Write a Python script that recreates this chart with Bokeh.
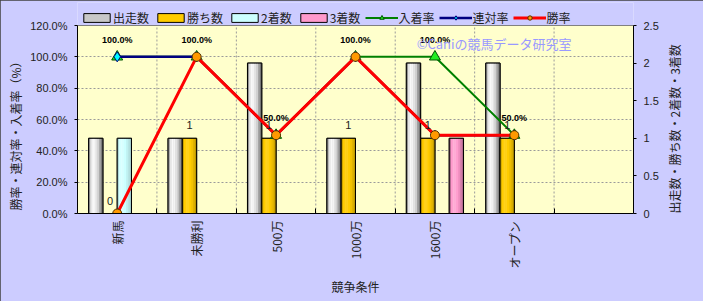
import numpy as np
from bokeh.plotting import figure
from bokeh.models import (Range1d, LinearAxis, FixedTicker, NumeralTickFormatter,
                          ColumnDataSource, LabelSet, Label, Legend, LegendItem, Title)
from bokeh.core.properties import value
from bokeh.embed import file_html
from bokeh.resources import INLINE

# ---------------- data ----------------
categories = ["新馬", "未勝利", "500万", "1000万", "1600万", "オープン"]
starts = [1, 1, 2, 1, 2, 2]          # 出走数
wins = [0, 1, 1, 1, 1, 1]            # 勝ち数
seconds = [1, 0, 0, 0, 0, 0]         # 2着数
thirds = [0, 0, 0, 0, 1, 0]          # 3着数
place_rate = [1.0, 1.0, 0.5, 1.0, 1.0, 0.5]      # 入着率
quinella_rate = [1.0, 1.0, 0.5, 1.0, 0.5, 0.5]   # 連対率
win_rate = [0.0, 1.0, 0.5, 1.0, 0.5, 0.5]        # 勝率
left_ticks = [0, 0.2, 0.4, 0.6, 0.8, 1.0, 1.2]
right_ticks = [0, 0.5, 1, 1.5, 2, 2.5]
n_slots = 7
left_title = "勝率・連対率・入着率（%）"
right_title = "出走数・勝ち数・2着数・3着数"
x_title = "競争条件"
watermark = "©Caniの競馬データ研究室"

JP = "Noto Sans CJK JP"
LAT = "Liberation Sans"
TXT = "#222222"

# layout: frame spans from y=2 to y=213; the plot area (0..max) occupies y=25..213
FRAME_TOP, AREA_TOP, AREA_BOTTOM = 2, 25, 213
stretch = (AREA_BOTTOM - FRAME_TOP) / (AREA_BOTTOM - AREA_TOP)
lmax, rmax = left_ticks[-1], right_ticks[-1]

p = figure(width=703, height=301, x_range=Range1d(0, n_slots), y_range=Range1d(0, lmax * stretch),
           output_backend="svg", toolbar_location=None,
           min_border_left=77, min_border_right=70, min_border_top=FRAME_TOP,
           min_border_bottom=301 - AREA_BOTTOM,
           background_fill_color="#CCCCFF", border_fill_color="#CCCCFF",
           outline_line_color=None)
p.styles = {"outline": "1px solid #404040", "outline-offset": "-1px"}

xc = np.arange(len(categories)) + 0.5

# plot area
area = p.quad(left=[0], right=[n_slots], bottom=[0], top=[lmax],
              fill_color="#FFFFCC", line_color="#808080", line_width=1)
area.level = "image"
seg = p.segment(x0=list(range(1, n_slots)), x1=list(range(1, n_slots)),
                y0=[0] * (n_slots - 1), y1=[lmax] * (n_slots - 1),
                line_color="#9a9a9a", line_dash="2 2", line_width=1)
seg.level = "underlay"
p.xgrid.visible = False
p.ygrid.ticker = FixedTicker(ticks=left_ticks[1:-1])
p.ygrid.grid_line_color = "#9a9a9a"
p.ygrid.grid_line_dash = "2 2"

# axes
ax_l = p.yaxis[0]
ax_l.ticker = FixedTicker(ticks=left_ticks)
ax_l.formatter = NumeralTickFormatter(format="0.0%")
ax_l.bounds = (0, lmax)
p.extra_y_ranges = {"cnt": Range1d(0, rmax * stretch)}
ax_r = LinearAxis(y_range_name="cnt", ticker=FixedTicker(ticks=right_ticks),
                  major_label_overrides={t: f"{t:g}" for t in right_ticks},
                  bounds=(0, rmax))
p.add_layout(ax_r, "right")

for ax in [ax_l, ax_r]:
    ax.major_tick_out = 3
    ax.major_tick_in = 0
    ax.minor_tick_out = 0
    ax.minor_tick_in = 0
    ax.major_label_standoff = 7
    ax.major_label_text_font = LAT
    ax.major_label_text_font_size = "11px"
    ax.major_label_text_color = TXT
    ax.axis_line_color = "black"
    ax.major_tick_line_color = "black"

ax_r.axis_label = right_title
ax_r.axis_label_standoff = 13
ax_r.axis_label_text_font = JP
ax_r.axis_label_text_font_size = "12px"
ax_r.axis_label_text_font_style = "normal"
ax_r.axis_label_text_color = TXT
props = ax_r.properties()
if "axis_label_orientation" in props:
    ax_r.axis_label_orientation = np.pi / 2
if "axis_label_align" in props:
    ax_r.axis_label_align = "start"

p.add_layout(Title(text=left_title, align="left", offset=3, vertical_align="middle",
                   standoff=6, text_font=JP, text_font_size="12px", text_font_style="normal",
                   text_color=TXT), "left")

xa = p.xaxis[0]
xa.ticker = FixedTicker(ticks=list(xc), minor_ticks=list(range(1, n_slots)))
xa.major_label_overrides = {float(x): c for x, c in zip(xc, categories)}
xa.major_label_orientation = np.pi / 2
xa.major_tick_in = 0
xa.major_tick_out = 0
xa.minor_tick_in = 5
xa.minor_tick_out = 0
xa.minor_tick_line_color = "black"
xa.major_label_standoff = 7
xa.major_label_text_font = JP
xa.major_label_text_font_size = "12px"
xa.major_label_text_color = TXT
xa.axis_line_color = "black"
xa.axis_label = x_title
xa.axis_label_text_font = JP
xa.axis_label_text_font_size = "12px"
xa.axis_label_text_font_style = "normal"
xa.axis_label_text_color = TXT
xa.axis_label_standoff = 6


# ---------------- bars ----------------
def shade(hexcol, f):
    r, g, b = (int(hexcol[i:i + 2], 16) for i in (1, 3, 5))
    if f >= 0:
        r, g, b = (c + (255 - c) * f for c in (r, g, b))
    else:
        r, g, b = (c * (1 + f) for c in (r, g, b))
    return "#%02x%02x%02x" % (int(r), int(g), int(b))


w = 0.18
offsets = [-1.5 * w, -0.5 * w, 0.5 * w, 1.5 * w]
bar_series = [
    ("出走数", starts, "#C8C8C8", [-0.25, 0.55, 0.9, 0.8, 0.5, 0.15, -0.2, -0.4]),
    ("勝ち数", wins, "#FFCC00", [-0.2, 0.0, 0.12, 0.1, 0.0, -0.05, -0.12, -0.25]),
    ("2着数", seconds, "#CCFFFF", [-0.15, 0.2, 0.35, 0.2, 0.0, -0.05, -0.1, -0.2]),
    ("3着数", thirds, "#FF99CC", [-0.3, 0.0, 0.25, 0.2, 0.05, -0.05, -0.15, -0.3]),
]
legend_items = []
nstrip = 8
for (name, vals, col, prof), off in zip(bar_series, offsets):
    xs = [x + off for x, v in zip(xc, vals) if v > 0]
    tops = [v for v in vals if v > 0]
    src = ColumnDataSource(dict(x=xs, top=tops))
    base = p.vbar(x="x", top="top", width=w, bottom=0, source=src, y_range_name="cnt",
                  fill_color=col, line_color="black", line_width=1)
    sw = w / nstrip
    for k in range(nstrip):
        sx = [x - w / 2 + (k + 0.5) * sw for x in xs]
        p.vbar(x=sx, top=tops, width=sw * 1.08, bottom=0, y_range_name="cnt",
               fill_color=shade(col, prof[k]), line_color=None)
    p.vbar(x="x", top="top", width=w, bottom=0, source=src, y_range_name="cnt",
           fill_color=None, line_color="black", line_width=1)
    legend_items.append(LegendItem(label=name, renderers=[base]))

# ---------------- lines ----------------
line_series = [
    ("入着率", place_rate, "#008000", 2, "triangle", 11, "#22EE22", "#005500"),
    ("連対率", quinella_rate, "#000080", 2.5, "diamond", 10, "#00FFFF", "#000080"),
    ("勝率", win_rate, "#FF0000", 3, "circle", 9, "#FF9900", "#553300"),
]
for name, vals, lc, lw, mk, ms, fc, mlc in line_series:
    ln = p.line(xc, vals, line_color=lc, line_width=lw)
    sc = p.scatter(xc, vals, marker=mk, size=ms, fill_color=fc, line_color=mlc, line_width=1)
    legend_items.append(LegendItem(label=name, renderers=[ln, sc]))

# data labels
lab_src = ColumnDataSource(dict(x=xc, y=place_rate, t=[f"{v * 100:.1f}%" for v in place_rate]))
p.add_layout(LabelSet(x="x", y="y", text="t", source=lab_src, y_offset=17,
                      text_align="center", text_baseline="middle",
                      text_font=value(LAT), text_font_size=value("9px"),
                      text_font_style="bold", text_color="black"))
win_src = ColumnDataSource(dict(x=xc + offsets[1], y=wins, t=[str(v) for v in wins]))
p.add_layout(LabelSet(x="x", y="y", text="t", source=win_src, y_range_name="cnt", y_offset=13,
                      text_align="center", text_baseline="middle",
                      text_font=value(LAT), text_font_size=value("11px"), text_color=TXT))

# watermark
p.add_layout(Label(x=4.27, y=1.085, text=watermark, text_font=JP,
                   text_font_size="13px", text_color="#9999FF",
                   text_align="left", text_baseline="middle"))

legend = Legend(items=legend_items, orientation="horizontal", location=(2, 186.5),
                label_text_font=JP, label_text_font_size="12px", label_text_color=TXT,
                glyph_width=33, glyph_height=11, label_standoff=0, spacing=5,
                padding=1, margin=0, background_fill_alpha=0, border_line_alpha=0)
p.add_layout(legend)

open("out.html", "w").write(file_html(p, INLINE))
